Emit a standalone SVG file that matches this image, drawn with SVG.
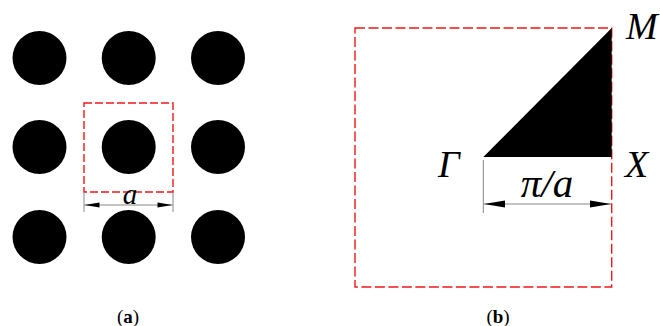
<svg xmlns="http://www.w3.org/2000/svg" width="660" height="326" viewBox="0 0 660 326">
<style>
.dot{fill:#000}
.cell{fill:none;stroke:#f01818;stroke-width:1.4}
.dim{stroke:#888;stroke-width:1;fill:none}
.lbl{font-family:'Liberation Serif','DejaVu Serif',serif;font-style:italic;fill:#000}
.cap{font-family:'Liberation Serif','DejaVu Serif',serif;font-size:19px;fill:#000}
</style>
<g id="panel-a">
<g id="lattice">
<circle class="dot" cx="39.5" cy="58" r="27"/>
<circle class="dot" cx="128.7" cy="58" r="27"/>
<circle class="dot" cx="218" cy="58" r="27"/>
<circle class="dot" cx="39.5" cy="147" r="27"/>
<circle class="dot" cx="128.7" cy="147" r="27"/>
<circle class="dot" cx="218" cy="147" r="27"/>
<circle class="dot" cx="39.5" cy="237" r="27"/>
<circle class="dot" cx="128.7" cy="237" r="27"/>
<circle class="dot" cx="218" cy="237" r="27"/>
</g>
<rect id="unit-cell" class="cell" x="84" y="103" width="89" height="89" stroke-dasharray="8,3"/>
<g id="dim-a">
<line class="dim" x1="84" y1="192" x2="84" y2="212"/>
<line class="dim" x1="173" y1="192" x2="173" y2="212"/>
<line class="dim" x1="84.5" y1="205" x2="172.5" y2="205" stroke="#aaa"/>
<path d="M84.5,205 l15,-2.5 v5 z M172.5,205 l-15,-2.5 v5 z" fill="#000"/>
<text class="lbl" x="130" y="204" font-size="29" text-anchor="middle">a</text>
</g>
<text class="cap" x="128" y="323" text-anchor="middle">(<tspan font-weight="bold">a</tspan>)</text>
</g>
<g id="panel-b">
<rect id="bz" class="cell" x="355" y="28" width="256.7" height="259" stroke-dasharray="10,3.5"/>
<polygon id="ibz" points="483.3,157 611.7,157 611.7,28" fill="#000"/>
<g id="dim-pi">
<line class="dim" x1="483.3" y1="160" x2="483.3" y2="213"/>
<line class="dim" x1="484" y1="204" x2="611" y2="204"/>
<path d="M484,204 l21,-3.5 v7 z M611,204 l-21,-3.5 v7 z" fill="#000"/>
<text class="lbl" x="547" y="197" font-size="41" text-anchor="middle">π/a</text>
</g>
<text class="lbl" x="626" y="39" font-size="38">M</text>
<text class="lbl" x="438" y="177" font-size="38">Γ</text>
<text class="lbl" x="625" y="177" font-size="38">X</text>
<text class="cap" x="498" y="323" text-anchor="middle">(<tspan font-weight="bold">b</tspan>)</text>
</g>
</svg>
